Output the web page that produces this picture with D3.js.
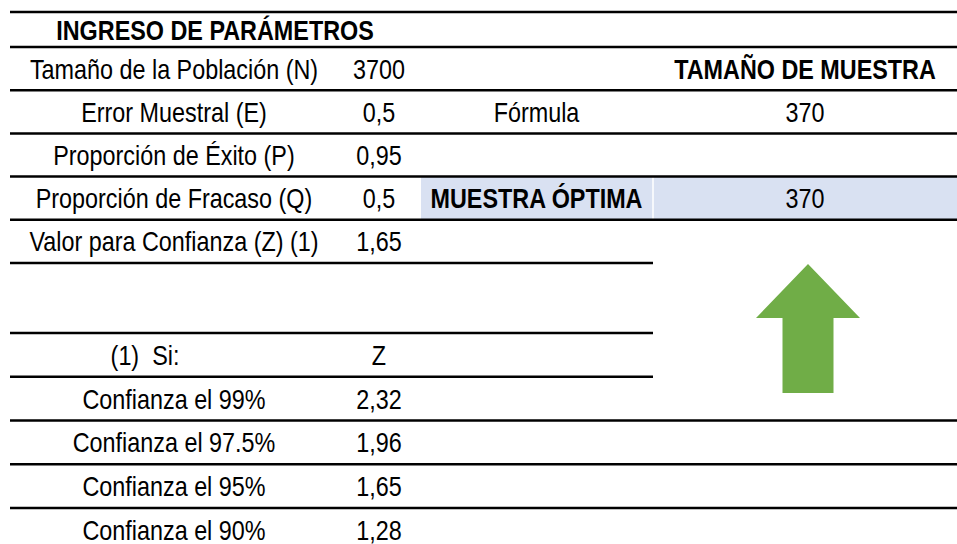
<!DOCTYPE html>
<html>
<head>
<meta charset="utf-8">
<script src="https://cdn.jsdelivr.net/npm/d3@7"></script>
<style>
  body { margin: 0; background: #fff; }
  svg { display: block; }
  text { font-family: 'Liberation Sans', Arial, sans-serif; font-size: 28.5px; fill: #000; }
  .bold { font-weight: bold; }
</style>
</head>
<body>
<svg id="canvas" width="957" height="544"></svg>
<script>
/************* Data **************/
var headerTitle = "INGRESO DE PARÁMETROS";

var paramLabels = [
    "Tamaño de la Población (N)",
    "Error Muestral (E)",
    "Proporción de Éxito (P)",
    "Proporción de Fracaso (Q)",
    "Valor para Confianza (Z) (1)"
];
var paramValues = [3700, 0.5, 0.95, 0.5, 1.65];

// column C and D of the upper block (by row)
var resultLabels = ["", "Fórmula", "", "MUESTRA ÓPTIMA", ""];
var resultValues = ["TAMAÑO DE MUESTRA", 370, null, 370, null];

var zHeader = ["(1)  Si:", "Z"];
var zLabels = ["Confianza el 99%", "Confianza el 97.5%", "Confianza el 95%", "Confianza el 90%"];
var zValues = [2.32, 1.96, 1.65, 1.28];


/********** Initialisation *********/
var svg = d3.select("#canvas");
var width = +svg.attr("width");

var es = d3.formatLocale({decimal: ",", thousands: ".", grouping: [3], currency: ["", ""]});
var fmt = es.format("");

// Arial Narrow look: Liberation Sans squeezed horizontally
var narrow = 0.82;

// column edges: A, B, C, D
var colEdges = [10, 338, 420, 653, width];
var colMid = function(i) { return (colEdges[i] + colEdges[i + 1]) / 2; };

// row scales (upper block has 5 rows under a header, lower block 5 rows)
var yTop = d3.scaleLinear().domain([0, 5]).range([47, 263]);
var yLow = d3.scaleLinear().domain([0, 4]).range([333, 508]);
var headerTop = 12;

var blue = "#d9e1f2";
var green = "#70ad47";


/********** Fill ***********/
var optRow = resultLabels.indexOf("MUESTRA ÓPTIMA");
svg.append("rect")
    .attr("x", colEdges[2] + 1)
    .attr("y", yTop(optRow))
    .attr("width", width - colEdges[2] - 1)
    .attr("height", yTop(optRow + 1) - yTop(optRow))
    .attr("fill", blue);
svg.append("line")
    .attr("x1", colEdges[3]).attr("x2", colEdges[3])
    .attr("y1", yTop(optRow)).attr("y2", yTop(optRow + 1))
    .attr("stroke", "#fff").attr("stroke-width", 1.5);


/********** Borders ***********/
var borders = [
    {y: headerTop, x2: width}
];
d3.range(0, 5).forEach(function(i) { borders.push({y: yTop(i), x2: width}); });
borders.push({y: yTop(5), x2: colEdges[3]});
borders.push({y: yLow(0), x2: colEdges[3]});
borders.push({y: yLow(1), x2: colEdges[3]});
d3.range(2, 5).forEach(function(i) { borders.push({y: yLow(i), x2: width}); });

svg.append("g")
    .attr("class", "borders")
    .selectAll("line")
    .data(borders)
    .enter()
    .append("line")
    .attr("x1", colEdges[0])
    .attr("x2", function(d) { return d.x2; })
    .attr("y1", function(d) { return d.y; })
    .attr("y2", function(d) { return d.y; })
    .attr("stroke", "#000")
    .attr("stroke-width", 2.5);


/********** Text ***********/
function cell(x, y0, y1, txt, bold, dx) {
    svg.append("text")
        .attr("class", bold ? "bold" : null)
        .attr("transform", "translate(" + (x + (dx || 0)) + "," + ((y0 + y1) / 2 + 10) + ") scale(" + narrow + ",1)")
        .attr("text-anchor", "middle")
        .style("white-space", "pre")
        .text(txt);
}

cell((colEdges[0] + colEdges[2]) / 2, headerTop, yTop(0), headerTitle, true);

paramLabels.forEach(function(d, i) {
    cell(colMid(0), yTop(i), yTop(i + 1), d);
    cell(colMid(1), yTop(i), yTop(i + 1), fmt(paramValues[i]));
    if (resultLabels[i]) cell(colMid(2), yTop(i), yTop(i + 1), resultLabels[i], i === optRow);
    var v = resultValues[i];
    if (v !== null) cell(colMid(3), yTop(i), yTop(i + 1), typeof v === "number" ? fmt(v) : v, typeof v !== "number");
});

cell(colMid(0), yLow(0), yLow(1), zHeader[0], false, -29);
cell(colMid(1), yLow(0), yLow(1), zHeader[1]);
zLabels.forEach(function(d, i) {
    cell(colMid(0), yLow(i + 1), yLow(i + 2), d);
    cell(colMid(1), yLow(i + 1), yLow(i + 2), fmt(zValues[i]));
});


/********** Arrow ***********/
var ax = 808, tipY = 264, headY = 318, baseY = 393, headHalf = 52, shaftHalf = 25.5;
svg.append("polygon")
    .attr("points", [
        [ax, tipY], [ax + headHalf, headY], [ax + shaftHalf, headY], [ax + shaftHalf, baseY],
        [ax - shaftHalf, baseY], [ax - shaftHalf, headY], [ax - headHalf, headY]
    ].map(function(p) { return p.join(","); }).join(" "))
    .attr("fill", green);
</script>
</body>
</html>
